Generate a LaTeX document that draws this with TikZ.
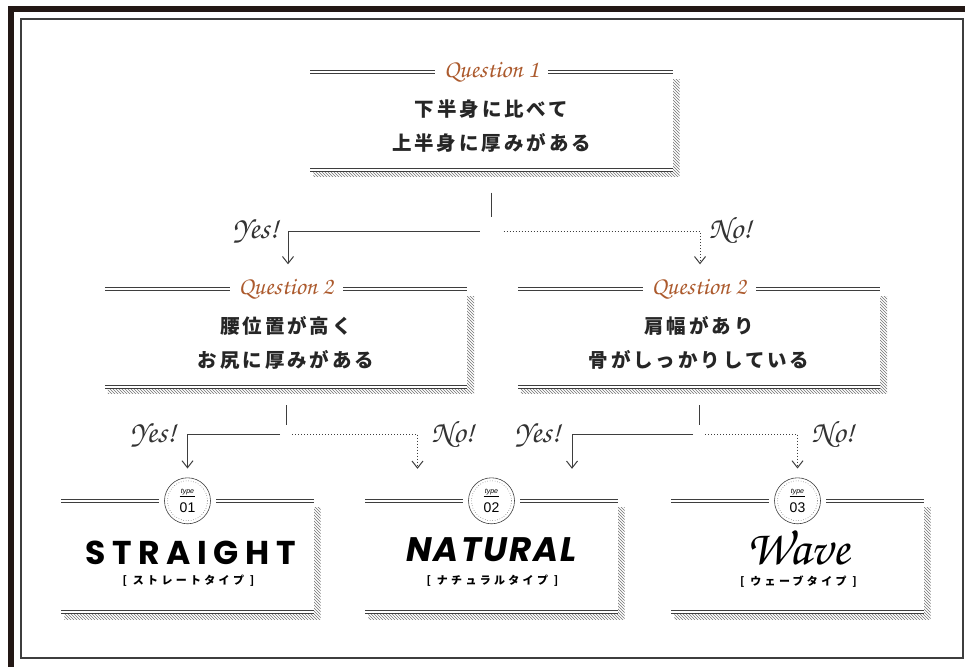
\documentclass[tikz,border=0pt]{standalone}
\usepackage[T1]{fontenc}
\usepackage{fontspec}
\usepackage{xcolor}
\usepackage{tikz}
\usetikzlibrary{positioning, calc, arrows.meta, patterns, backgrounds}

\newfontfamily\jpfont[LetterSpace=15]{Noto Sans CJK JP}
\newfontfamily\kanafont[LetterSpace=30]{Noto Sans CJK JP}
\newfontfamily\poppins[LetterSpace=20]{Poppins}
\newfontfamily\poppinstight[LetterSpace=6]{Poppins}
\newfontfamily\badgefont{Liberation Sans}
\newcommand{\chancery}{\fontencoding{T1}\fontfamily{pzc}\fontseries{mb}\fontshape{it}\selectfont}
\newcommand{\badgetext}[1]{{\fontsize{7}{7}\selectfont\itshape\underline{\,type\,}}\\#1}

\definecolor{framecolor}{RGB}{35,24,21}
\definecolor{rulecolor}{RGB}{62,62,62}
\definecolor{qbrown}{RGB}{172,90,45}

\begin{document}
\begin{tikzpicture}[
    x=1pt, y=-1pt,
    card/.style={fill=white, inner sep=0pt, minimum width=362pt, minimum height=97pt},
    result/.style={card, minimum width=252pt, minimum height=111pt},
    rule/.style={draw=rulecolor, line width=1.1pt, double=white, double distance=1.8pt},
    hatch/.style={pattern=north west lines, pattern color=black!55},
    qtitle/.style={fill=white, inner xsep=9pt, inner ysep=1pt, text=qbrown, font=\chancery\fontsize{25}{25}\selectfont},
    qtext/.style={align=center, text=black!85, font=\jpfont\bfseries\fontsize{19.5}{34}\selectfont},
    badge/.style={circle, draw=rulecolor, line width=0.6pt, fill=white, minimum size=46pt, inner sep=0pt, align=center,
        font=\badgefont\fontsize{14}{19}\selectfont, preaction={draw=white, line width=11pt}},
    stem/.style={draw=rulecolor, line width=0.8pt},
    yesarrow/.style={draw=rulecolor, line width=1pt, -{Straight Barb[length=7pt, width=11pt]}},
    noarrow/.style={yesarrow, dotted},
    answer/.style={font=\chancery\fontsize{31}{31}\selectfont, text=black!80},
    kana/.style={font=\kanafont\bfseries\fontsize{11}{11}\selectfont}
]
    \useasboundingbox (0,0) rectangle (965,666);
    \clip (0,0) rectangle (965,666);

    % frame
    \draw[framecolor, line width=6pt] (11,9) rectangle (975,672);
    \draw[rulecolor, line width=1.4pt] (21,19) rectangle (963,658);

    % cards
    \node[card] (q1) at (491.5,121) {};
    \node[card] (q2l) at (286,338) {};
    \node[card] (q2r) at (699,338) {};
    \node[result] (t1) at (187.5,556.5) {};
    \node[result] (t2) at (491.5,556.5) {};
    \node[result] (t3) at (797.5,556.5) {};

    \begin{scope}[on background layer]
    \foreach \c in {q1,q2l,q2r,t1,t2,t3}
        \fill[hatch] ($(\c.north west)+(3,7)$) rectangle ($(\c.south east)+(7,7)$);
    \end{scope}

    \foreach \c in {q1,q2l,q2r,t1,t2,t3} {
        \draw[rule] (\c.north west) -- (\c.north east);
        \draw[rule] (\c.south west) -- (\c.south east);
    }

    % questions
    \node[qtitle] (q1q) at (q1.north) {Question 1};
    \node[qtitle] (q2lq) at (q2l.north) {Question 2};
    \node[qtitle] (q2rq) at (q2r.north) {Question 2};
    \node[qtext] (q1txt) at ($(q1.center)+(0,5)$) {下半身に比べて\\上半身に厚みがある};
    \node[qtext] (q2ltxt) at ($(q2l.center)+(0,5)$) {腰位置が高く\\お尻に厚みがある};
    \node[qtext] (q2rtxt) at ($(q2r.center)+(0,5)$) {肩幅があり\\骨がしっかりしている};

    % types
    \node[badge] (b1) at (t1.north) {\badgetext{01}};
    \node[badge] (b2) at (t2.north) {\badgetext{02}};
    \node[badge] (b3) at (t3.north) {\badgetext{03}};
    \foreach \b in {b1,b2,b3}
        \draw[rulecolor, dotted, line width=0.5pt] (\b.center) circle[radius=20pt];

    \node[font=\poppins\bfseries\fontsize{33}{33}\selectfont] (straight) at ($(t1.center)+(3,-4)$) {STRAIGHT};
    \node[kana] (t1kana) at ($(t1.center)+(1,24)$) {[ ストレートタイプ ]};
    \node[font=\poppinstight\bfseries\itshape\fontsize{34}{34}\selectfont] (natural) at ($(t2.center)+(0,-7)$) {NATURAL};
    \node[kana] (t2kana) at ($(t2.center)+(1,24)$) {[ ナチュラルタイプ ]};
    \node[font=\chancery\fontsize{50}{50}\selectfont] (wave) at ($(t3.center)+(0,-9)$) {Wave};
    \node[kana] (t3kana) at ($(t3.center)+(1,25)$) {[ ウェーブタイプ ]};

    % branches from question 1
    \coordinate (j1) at ($(q1.south)+(0,62)$);
    \draw[stem] ($(q1.south)+(0,23)$) -- ($(q1.south)+(0,47)$);
    \draw[yesarrow] ($(j1)+(-12,0)$) -| ($(q2l.north)+(2,-25)$)
        node[answer, pos=0.5, anchor=base east, xshift=-6pt, yshift=-7pt] (y1) {Yes!};
    \draw[noarrow] ($(j1)+(12,0)$) -| ($(q2r.north)+(1,-25)$)
        node[answer, pos=0.5, anchor=base west, xshift=5pt, yshift=-7pt] (n1) {No!};

    % branches from question 2 (left)
    \coordinate (j2l) at ($(q2l.south)+(0,47.5)$);
    \draw[stem] ($(q2l.south)+(0,18.5)$) -- ($(q2l.south)+(0,38.5)$);
    \draw[yesarrow] ($(j2l)+(-6,0)$) -| ($(b1.north)+(0,-9)$)
        node[answer, pos=0.5, anchor=base east, xshift=-8pt, yshift=-8pt] (y2) {Yes!};
    \draw[noarrow] ($(j2l)+(6,0)$) -| ($(t2.north)+(-74,-32)$)
        node[answer, pos=0.5, anchor=base west, xshift=10pt, yshift=-8pt] (n2) {No!};

    % branches from question 2 (right)
    \coordinate (j2r) at ($(q2r.south)+(0,47.5)$);
    \draw[stem] ($(q2r.south)+(0,18.5)$) -- ($(q2r.south)+(0,38.5)$);
    \draw[yesarrow] ($(j2r)+(-6,0)$) -| ($(t2.north)+(80.5,-32)$)
        node[answer, pos=0.5, anchor=base east, xshift=-8pt, yshift=-8pt] (y3) {Yes!};
    \draw[noarrow] ($(j2r)+(6,0)$) -| ($(b3.north)+(0,-9)$)
        node[answer, pos=0.5, anchor=base west, xshift=10pt, yshift=-8pt] (n3) {No!};
\end{tikzpicture}
\end{document}
